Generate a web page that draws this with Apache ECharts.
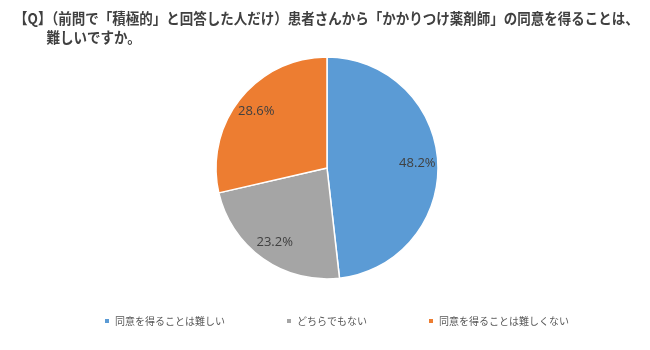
<!DOCTYPE html>
<html>
<head>
<meta charset="utf-8">
<script src="https://cdn.jsdelivr.net/npm/echarts@6/dist/echarts.min.js"></script>
<style>
  html, body { margin: 0; padding: 0; background: #fff; }
  #chart { width: 650px; height: 350px; }
</style>
</head>
<body>
<div id="chart"></div>
<script>
const categories = ['同意を得ることは難しい', 'どちらでもない', '同意を得ることは難しくない'];
const shares = [48.2, 23.2, 28.6];
const colors = ['#5B9BD5', '#A5A5A5', '#ED7D31'];

const titleLines = [
  '【Q】（前問で「積極的」と回答した人だけ）患者さんから「かかりつけ薬剤師」の同意を得ることは、',
  '難しいですか。'
];

const pieData = categories.map((name, i) => ({ name, value: shares[i] }));
const fontCJK = '"Noto Sans CJK JP", "Noto Sans", sans-serif';
const titleFont = 'bold 15px ' + fontCJK;

const chart = echarts.init(document.getElementById('chart'), null, { renderer: 'canvas' });
chart.setOption({
  backgroundColor: '#ffffff',
  color: colors,
  animation: false,
  graphic: [
    {
      // slightly condensed two-line heading
      type: 'group', left: 14, top: 11, scaleX: 0.9,
      children: [
        { type: 'text', x: 0, y: 0, style: { text: titleLines[0], font: titleFont, fill: '#404040' } },
        { type: 'text', x: 36, y: 19, style: { text: titleLines[1], font: titleFont, fill: '#404040' } }
      ]
    }
  ],
  legend: {
    bottom: 19,
    left: 98,
    itemWidth: 6,
    itemHeight: 6,
    itemGap: 60,
    icon: 'rect',
    textStyle: { color: '#595959', fontSize: 10, fontFamily: fontCJK }
  },
  series: [
    {
      type: 'pie',
      center: [327, 168],
      radius: [0, 111],
      startAngle: 90,
      clockwise: true,
      data: pieData,
      itemStyle: { borderColor: '#ffffff', borderWidth: 1.5 },
      label: { show: false },
      labelLine: { show: false },
      emphasis: { disabled: true }
    },
    {
      // transparent ring that only carries the percentage labels
      type: 'pie',
      center: [327, 168],
      radius: [64, 111],
      startAngle: 90,
      clockwise: true,
      silent: true,
      legendHoverLink: false,
      data: pieData,
      itemStyle: { color: 'rgba(0,0,0,0)', borderWidth: 0 },
      label: {
        show: true,
        position: 'inside',
        formatter: p => p.value.toFixed(1) + '%',
        color: '#404040',
        fontSize: 13,
        fontFamily: '"Open Sans", "DejaVu Sans", sans-serif'
      },
      labelLine: { show: false },
      emphasis: { disabled: true }
    }
  ]
});
</script>
</body>
</html>
